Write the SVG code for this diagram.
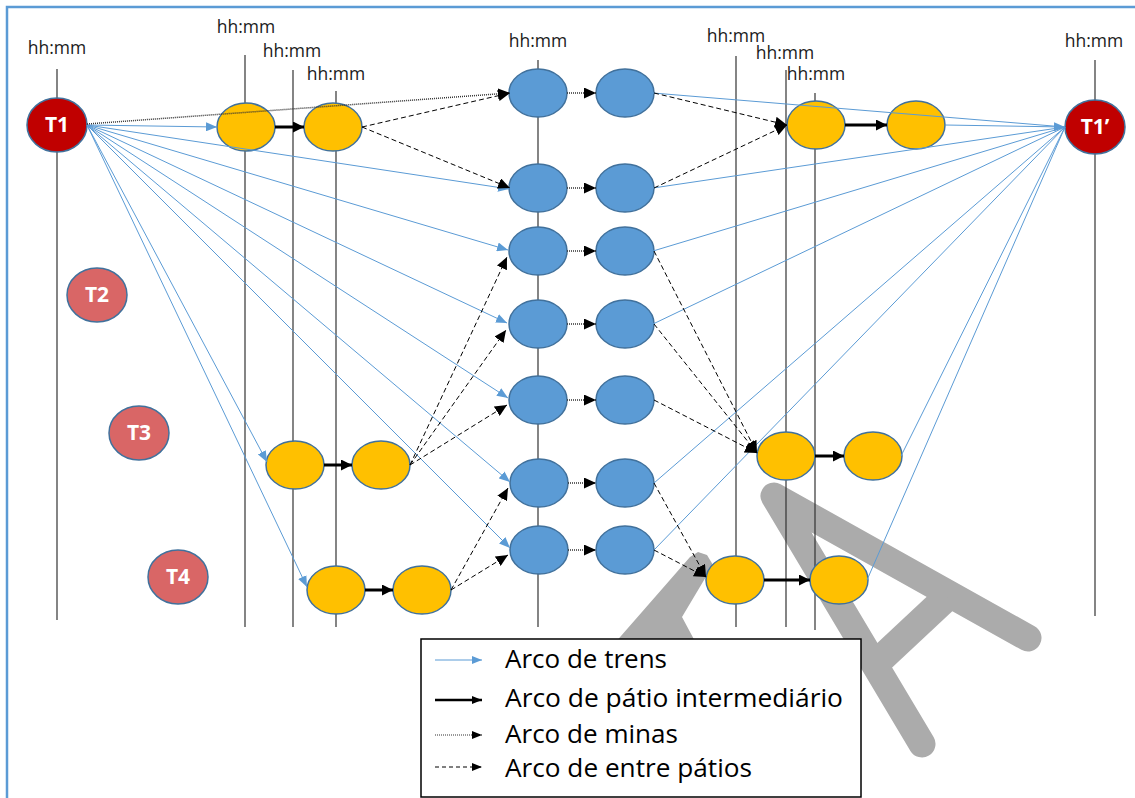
<svg xmlns="http://www.w3.org/2000/svg" width="1135" height="798" viewBox="0 0 1135 798">
<style>
.vl{stroke:#333;stroke-width:1.2}
.lbl{font-family:"Open Sans","Liberation Sans",sans-serif;font-size:17.5px;fill:#1a1a1a;text-anchor:middle}
.tl{font-family:"Open Sans","Liberation Sans",sans-serif;font-size:21px;font-weight:bold;fill:#fff;text-anchor:middle}
.y{fill:#FFC000;stroke:#41719C;stroke-width:1.5}
.b{fill:#5B9BD5;stroke:#41719C;stroke-width:1.5}
.r1{fill:#C00000;stroke:#41719C;stroke-width:1.5}
.r2{fill:#D96666;stroke:#41719C;stroke-width:1.5}
.tr{stroke:#5B9BD5;stroke-width:1;fill:none}
.th{stroke:#000;stroke-width:3;fill:none}
.mi{stroke:#333;stroke-width:1.5;stroke-dasharray:1 1;fill:none}
.ep{stroke:#000;stroke-width:1;stroke-dasharray:5 3;fill:none}
.leg{font-family:"Open Sans","Liberation Sans",sans-serif;font-size:26px;fill:#000}
</style>
<defs>
<marker id="ab" markerUnits="userSpaceOnUse" markerWidth="11" markerHeight="9" refX="11" refY="4.5" orient="auto"><path d="M0,0 L11,4.5 L0,9 z" fill="#5B9BD5"/></marker>
<marker id="ak" markerUnits="userSpaceOnUse" markerWidth="12" markerHeight="11" refX="12" refY="5.5" orient="auto"><path d="M0,0 L12,5.5 L0,11 z" fill="#000"/></marker>
<marker id="akt" markerUnits="userSpaceOnUse" markerWidth="11" markerHeight="11" refX="11" refY="5.5" orient="auto"><path d="M0,0 L11,5.5 L0,11 z" fill="#000"/></marker>
<marker id="abs" markerUnits="userSpaceOnUse" markerWidth="10" markerHeight="8" refX="10" refY="4" orient="auto"><path d="M0,0 L10,4 L0,8 z" fill="#5B9BD5"/></marker>
<marker id="aks" markerUnits="userSpaceOnUse" markerWidth="10" markerHeight="8" refX="10" refY="4" orient="auto"><path d="M0,0 L10,4 L0,8 z" fill="#000"/></marker>
</defs>
<rect x="0" y="0" width="1135" height="798" fill="#fff"/>
<rect x="7" y="7" width="1140" height="800" fill="none" stroke="#5B9BD5" stroke-width="2.5"/>

<g id="watermark">
<path d="M1028,638 L774,496 L922,744" fill="none" stroke="#ABABAB" stroke-width="27" stroke-linecap="round" stroke-linejoin="round"/>
<path d="M947,597 L870,669" fill="none" stroke="#ABABAB" stroke-width="28"/>
<polygon points="600,660 690,557 698,552 707,555 713,565 682,617 705,660" fill="#ABABAB"/>
</g>

<g id="timelines">
<line class="vl" x1="57" y1="69" x2="57" y2="620"/>
<line class="vl" x1="245" y1="55" x2="245" y2="627"/>
<line class="vl" x1="293" y1="70" x2="293" y2="627"/>
<line class="vl" x1="336" y1="91" x2="336" y2="627"/>
<line class="vl" x1="538" y1="60" x2="538" y2="627"/>
<line class="vl" x1="736" y1="56" x2="736" y2="627"/>
<line class="vl" x1="786" y1="70" x2="786" y2="627"/>
<line class="vl" x1="815" y1="93" x2="815" y2="630"/>
<line class="vl" x1="1095" y1="60" x2="1095" y2="616"/>
<text class="lbl" x="57" y="54">hh:mm</text>
<text class="lbl" x="246" y="33">hh:mm</text>
<text class="lbl" x="292" y="57">hh:mm</text>
<text class="lbl" x="336" y="80">hh:mm</text>
<text class="lbl" x="538" y="47">hh:mm</text>
<text class="lbl" x="736" y="42">hh:mm</text>
<text class="lbl" x="785" y="59">hh:mm</text>
<text class="lbl" x="816" y="80">hh:mm</text>
<text class="lbl" x="1094" y="47">hh:mm</text>
</g>

<g id="nodes">
<g id="T1"><ellipse class="r1" cx="57" cy="125" rx="30" ry="27"/><text class="tl" x="57" y="132">T1</text></g>
<g id="T2"><ellipse class="r2" cx="97" cy="295" rx="30" ry="27"/><text class="tl" x="97" y="302">T2</text></g>
<g id="T3"><ellipse class="r2" cx="139" cy="433" rx="30" ry="27"/><text class="tl" x="139" y="440">T3</text></g>
<g id="T4"><ellipse class="r2" cx="178" cy="577" rx="30" ry="27"/><text class="tl" x="178" y="584">T4</text></g>
<g id="T1p"><ellipse class="r1" cx="1095" cy="127" rx="30" ry="27"/><text class="tl" x="1095" y="134">T1’</text></g>
<g id="A1"><ellipse class="y" cx="246" cy="127" rx="29" ry="24"/></g>
<g id="A2"><ellipse class="y" cx="333" cy="127" rx="29" ry="24"/></g>
<g id="E1"><ellipse class="y" cx="295" cy="465" rx="29" ry="24"/></g>
<g id="E2"><ellipse class="y" cx="381" cy="465" rx="29" ry="24"/></g>
<g id="F1"><ellipse class="y" cx="336" cy="590" rx="29" ry="24"/></g>
<g id="F2"><ellipse class="y" cx="422" cy="590" rx="29" ry="24"/></g>
<g id="B1"><ellipse class="y" cx="816" cy="125" rx="29" ry="24"/></g>
<g id="B2"><ellipse class="y" cx="916" cy="125" rx="29" ry="24"/></g>
<g id="C1"><ellipse class="y" cx="786" cy="456" rx="29" ry="24"/></g>
<g id="C2"><ellipse class="y" cx="873" cy="456" rx="29" ry="24"/></g>
<g id="D1"><ellipse class="y" cx="735" cy="580" rx="29" ry="24"/></g>
<g id="D2"><ellipse class="y" cx="839" cy="580" rx="29" ry="24"/></g>
<g id="M1a"><ellipse class="b" cx="538" cy="93" rx="29" ry="24"/></g>
<g id="M1b"><ellipse class="b" cx="625" cy="93" rx="29" ry="24"/></g>
<g id="M2a"><ellipse class="b" cx="538" cy="188" rx="29" ry="24"/></g>
<g id="M2b"><ellipse class="b" cx="625" cy="188" rx="29" ry="24"/></g>
<g id="M3a"><ellipse class="b" cx="538" cy="251" rx="29" ry="24"/></g>
<g id="M3b"><ellipse class="b" cx="625" cy="251" rx="29" ry="24"/></g>
<g id="M4a"><ellipse class="b" cx="538" cy="324" rx="29" ry="24"/></g>
<g id="M4b"><ellipse class="b" cx="625" cy="324" rx="29" ry="24"/></g>
<g id="M5a"><ellipse class="b" cx="538" cy="400" rx="29" ry="24"/></g>
<g id="M5b"><ellipse class="b" cx="625" cy="400" rx="29" ry="24"/></g>
<g id="M6a"><ellipse class="b" cx="539" cy="483" rx="29" ry="24"/></g>
<g id="M6b"><ellipse class="b" cx="625" cy="483" rx="29" ry="24"/></g>
<g id="M7a"><ellipse class="b" cx="539" cy="550" rx="29" ry="24"/></g>
<g id="M7b"><ellipse class="b" cx="625" cy="550" rx="29" ry="24"/></g>
</g>

<g id="connectors">
<line class="tr" x1="87" y1="125" x2="217" y2="127" marker-end="url(#ab)"/>
<line class="tr" x1="87" y1="125" x2="509" y2="189" marker-end="url(#ab)"/>
<line class="tr" x1="87" y1="125" x2="508" y2="250" marker-end="url(#ab)"/>
<line class="tr" x1="87" y1="125" x2="507" y2="323" marker-end="url(#ab)"/>
<line class="tr" x1="87" y1="125" x2="508" y2="398" marker-end="url(#ab)"/>
<line class="tr" x1="87" y1="125" x2="510" y2="482" marker-end="url(#ab)"/>
<line class="tr" x1="87" y1="125" x2="510" y2="548" marker-end="url(#ab)"/>
<line class="tr" x1="87" y1="125" x2="267" y2="462" marker-end="url(#ab)"/>
<line class="tr" x1="87" y1="125" x2="307" y2="587" marker-end="url(#ab)"/>
<line class="tr" x1="653" y1="93" x2="1065" y2="127"/>
<line class="tr" x1="653" y1="188" x2="1065" y2="127"/>
<line class="tr" x1="653" y1="251" x2="1065" y2="127"/>
<line class="tr" x1="653" y1="324" x2="1065" y2="127"/>
<line class="tr" x1="654" y1="483" x2="1065" y2="127"/>
<line class="tr" x1="654" y1="550" x2="1065" y2="127"/>
<line class="tr" x1="901" y1="456" x2="1065" y2="127"/>
<line class="tr" x1="867" y1="580" x2="1065" y2="127"/>
<line class="tr" x1="945" y1="125" x2="1065" y2="127" marker-end="url(#ab)"/>

<line class="mi" x1="87" y1="124" x2="510" y2="93" marker-end="url(#ak)"/>
<line class="mi" x1="567" y1="93" x2="596" y2="93" marker-end="url(#ak)"/>
<line class="mi" x1="567" y1="188" x2="596" y2="188" marker-end="url(#ak)"/>
<line class="mi" x1="567" y1="251" x2="596" y2="251" marker-end="url(#ak)"/>
<line class="mi" x1="567" y1="324" x2="596" y2="324" marker-end="url(#ak)"/>
<line class="mi" x1="567" y1="400" x2="596" y2="400" marker-end="url(#ak)"/>
<line class="mi" x1="568" y1="483" x2="596" y2="483" marker-end="url(#ak)"/>
<line class="mi" x1="568" y1="550" x2="596" y2="550" marker-end="url(#ak)"/>

<line class="ep" x1="362" y1="127" x2="510" y2="93" marker-end="url(#ak)"/>
<line class="ep" x1="362" y1="127" x2="510" y2="188" marker-end="url(#ak)"/>
<line class="ep" x1="410" y1="465" x2="507" y2="257" marker-end="url(#ak)"/>
<line class="ep" x1="410" y1="465" x2="506" y2="330" marker-end="url(#ak)"/>
<line class="ep" x1="410" y1="465" x2="507" y2="405" marker-end="url(#ak)"/>
<line class="ep" x1="451" y1="590" x2="508" y2="488" marker-end="url(#ak)"/>
<line class="ep" x1="451" y1="590" x2="508" y2="555" marker-end="url(#ak)"/>
<line class="ep" x1="654" y1="93" x2="787" y2="125" marker-end="url(#ak)"/>
<line class="ep" x1="654" y1="188" x2="787" y2="125" marker-end="url(#ak)"/>
<line class="ep" x1="654" y1="251" x2="757" y2="453" marker-end="url(#ak)"/>
<line class="ep" x1="654" y1="324" x2="757" y2="453" marker-end="url(#ak)"/>
<line class="ep" x1="654" y1="400" x2="757" y2="453" marker-end="url(#ak)"/>
<line class="ep" x1="654" y1="483" x2="706" y2="577" marker-end="url(#ak)"/>
<line class="ep" x1="654" y1="550" x2="706" y2="577" marker-end="url(#ak)"/>

<line class="th" x1="275" y1="127" x2="304" y2="127" marker-end="url(#akt)"/>
<line class="th" x1="324" y1="465" x2="352" y2="465" marker-end="url(#akt)"/>
<line class="th" x1="365" y1="590" x2="393" y2="590" marker-end="url(#akt)"/>
<line class="th" x1="845" y1="125" x2="887" y2="125" marker-end="url(#akt)"/>
<line class="th" x1="815" y1="456" x2="844" y2="456" marker-end="url(#akt)"/>
<line class="th" x1="764" y1="580" x2="810" y2="580" marker-end="url(#akt)"/>
</g>

<g id="legend">
<rect x="421" y="639" width="440" height="158" fill="#fff" stroke="#000" stroke-width="1.5"/>
<line class="tr" x1="435" y1="660" x2="482" y2="660" marker-end="url(#abs)"/>
<line stroke="#000" stroke-width="2.5" x1="435" y1="700" x2="482" y2="700" marker-end="url(#aks)"/>
<line class="mi" style="stroke-width:1.2" x1="435" y1="735" x2="482" y2="735" marker-end="url(#aks)"/>
<line class="ep" style="stroke-dasharray:4 3" x1="435" y1="767" x2="482" y2="767" marker-end="url(#aks)"/>
<text class="leg" x="505" y="668" textLength="162" lengthAdjust="spacingAndGlyphs">Arco de trens</text>
<text class="leg" x="505" y="707" textLength="338" lengthAdjust="spacingAndGlyphs">Arco de pátio intermediário</text>
<text class="leg" x="505" y="743" textLength="173" lengthAdjust="spacingAndGlyphs">Arco de minas</text>
<text class="leg" x="505" y="777" textLength="247" lengthAdjust="spacingAndGlyphs">Arco de entre pátios</text>
</g>
</svg>
